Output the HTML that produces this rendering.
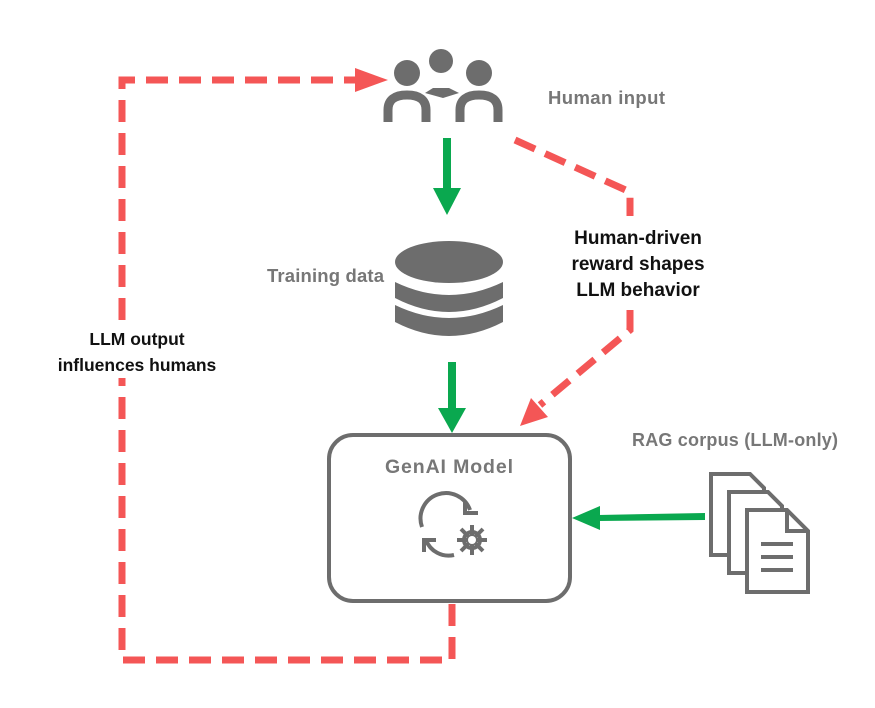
<!DOCTYPE html>
<html><head><meta charset="utf-8"><style>
body{margin:0;background:#fff;}
svg{display:block}
text{font-family:"Liberation Sans",sans-serif;font-weight:bold}
</style></head><body>
<svg width="875" height="708" viewBox="0 0 875 708" xmlns="http://www.w3.org/2000/svg">
<path d="M452,604 V660 H122 V80 H360" fill="none" stroke="#f45656" stroke-width="7" stroke-dasharray="22,11"/>
<path d="M355,68 L388,80 L355,92z" fill="#f45656"/>
<path d="M515,140 L630,192 V216" fill="none" stroke="#f45656" stroke-width="7" stroke-dasharray="22,11"/>
<path d="M630,310 V330 L540,405" fill="none" stroke="#f45656" stroke-width="7" stroke-dasharray="22,11"/>
<path d="M531,398 L520,426 L548,417z" fill="#f45656"/>
<rect x="443" y="138" width="8" height="52" fill="#0aa84f"/>
<path d="M433,188 L461,188 L447,215z" fill="#0aa84f"/>
<rect x="448" y="362" width="8" height="48" fill="#0aa84f"/>
<path d="M438,408 L466,408 L452,433z" fill="#0aa84f"/>
<path d="M705,513 L598,515 L598,521 L705,520z" fill="#0aa84f"/>
<path d="M600,506 L572,518 L600,530z" fill="#0aa84f"/>
<rect x="329" y="435" width="241" height="166" rx="24" fill="none" stroke="#6d6d6d" stroke-width="4"/>
<g fill="#6d6d6d">
<circle cx="441" cy="61" r="12"/>
<circle cx="407" cy="73" r="13"/>
<circle cx="479" cy="73" r="13"/>
<path d="M433,88 L449,88 L459,93 L443,98 L425,93z"/>
</g>
<g fill="none" stroke="#6d6d6d" stroke-width="9">
<path d="M388,122 V110 Q388,95 407,95 Q426,95 426,110 V122"/>
<path d="M460,122 V110 Q460,95 479,95 Q498,95 498,110 V122"/>
</g>
<g fill="#6d6d6d">
<ellipse cx="449" cy="262" rx="54" ry="21"/>
<path d="M395,282 Q449,308 503,282 V298 Q449,326 395,298z"/>
<path d="M395,305 Q449,331 503,305 V322 Q449,350 395,322z"/>
</g>
<g fill="none" stroke="#6d6d6d" stroke-width="4">
<path d="M422,527 A24,24 0 0 1 470,510"/>
<path d="M465,501 V513 H478"/>
<path d="M454,555 A24,24 0 0 1 426,540"/>
<path d="M424,552 V540 H436"/>
<circle cx="472" cy="540" r="8"/>
</g>
<g stroke="#6d6d6d" stroke-width="4">
<path d="M472,525 V555 M457,540 H487 M461,529 L483,551 M483,529 L461,551"/>
</g>
<circle cx="472" cy="540" r="4" fill="#fff"/>
<g fill="#fff" stroke="#6d6d6d" stroke-width="4">
<path d="M711,474 H750 L764,488 V555 H711z"/>
<path d="M729,492 H768 L782,506 V573 H729z"/>
<path d="M747,510 H787 L808,531 V592 H747z"/>
</g>
<path d="M787,510 V531 H808" fill="none" stroke="#6d6d6d" stroke-width="4"/>
<g stroke="#6d6d6d" stroke-width="4"><path d="M761,544 H793 M761,557 H793 M761,570 H793"/></g>
<rect x="64" y="322" width="146" height="56" fill="#fff"/>
<text x="548" y="104" font-size="18.5" fill="#777" textLength="117">Human input</text>
<text x="267" y="282" font-size="18.5" fill="#777" textLength="117">Training data</text>
<text x="385" y="473" font-size="19.5" fill="#777" textLength="128">GenAI Model</text>
<text x="632" y="446" font-size="18" fill="#777" textLength="206">RAG corpus (LLM-only)</text>
<g font-size="19" fill="#111" text-anchor="middle">
<text x="638" y="244">Human-driven</text>
<text x="638" y="270">reward shapes</text>
<text x="638" y="296">LLM behavior</text>
<text x="137" y="345" font-size="17.5">LLM output</text>
<text x="137" y="371" font-size="17.5">influences humans</text>
</g>
</svg>
</body></html>
